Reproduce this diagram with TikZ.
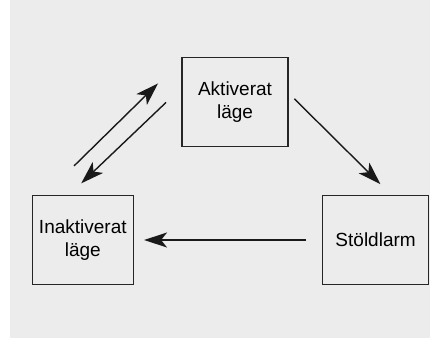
\documentclass[tikz,border=0pt]{standalone}
\usepackage{fontspec}
\setmainfont{Liberation Sans}
\usetikzlibrary{positioning,arrows.meta}

\begin{document}
\begin{tikzpicture}[x=1pt,y=1pt,
  state/.style={draw=black!85,line width=0.75pt,align=center,
    minimum height=44.5pt,minimum width=53pt,inner sep=2pt,
    font=\fontsize{9.5}{11.2}\selectfont},
  trans/.style={-{Stealth[length=11.5pt,width=7.5pt,inset=3pt]},line width=0.7pt,draw=black!90}]
\useasboundingbox (0,0) rectangle (215.5,169);
\fill[gray!15] (5,0) rectangle (215,169);
\node[state] (akt) at (117.5,118) {Aktiverat\\läge};
\node[state,minimum width=50.5pt] (inakt) at (41.4,49) {Inaktiverat\\läge};
\node[state,right=93.9pt of inakt] (stold) {Stöldlarm};
\draw[trans] ([xshift=-4.4pt,yshift=14.4pt]inakt.north) -- ([xshift=-11.6pt,yshift=9.3pt]akt.west);
\draw[trans] ([xshift=-7.6pt,yshift=-0.2pt]akt.west) -- ([xshift=-0.8pt,yshift=5.7pt]inakt.north);
\draw[trans] ([xshift=2.8pt,yshift=1.6pt]akt.east) -- ([xshift=2.4pt,yshift=5.3pt]stold.north);
\draw[trans] ([xshift=-7.9pt]stold.west) -- ([xshift=5pt]inakt.east);
\end{tikzpicture}
\end{document}
